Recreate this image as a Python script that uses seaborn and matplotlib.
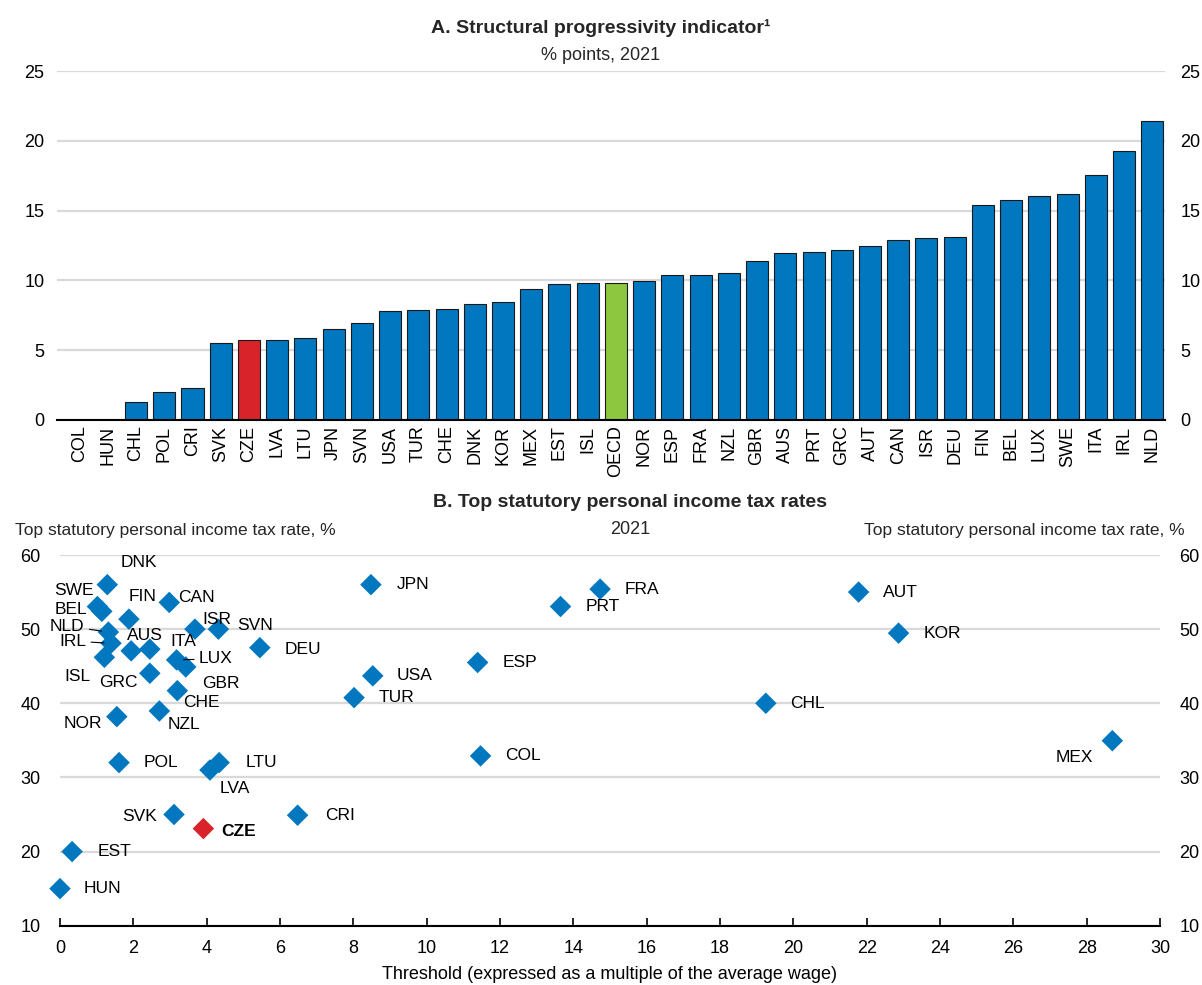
import matplotlib
matplotlib.use("Agg")
import matplotlib.pyplot as plt
import seaborn as sns
import pandas as pd

BLUE = "#0077BE"
RED = "#D9232A"
GREEN = "#8DC63F"
GRID = "#D9D9D9"

# Panel A: structural progressivity indicator, % points, 2021
bar_countries = ["COL", "HUN", "CHL", "POL", "CRI", "SVK", "CZE", "LVA", "LTU", "JPN",
                 "SVN", "USA", "TUR", "CHE", "DNK", "KOR", "MEX", "EST", "ISL", "OECD",
                 "NOR", "ESP", "FRA", "NZL", "GBR", "AUS", "PRT", "GRC", "AUT", "CAN",
                 "ISR", "DEU", "FIN", "BEL", "LUX", "SWE", "ITA", "IRL", "NLD"]
bar_values = [0.0, 0.0, 1.27, 1.98, 2.27, 5.5, 5.7, 5.75, 5.9, 6.5,
              6.95, 7.8, 7.9, 7.97, 8.28, 8.47, 9.36, 9.76, 9.79, 9.8,
              9.95, 10.36, 10.36, 10.55, 11.4, 11.98, 12.03, 12.15, 12.43, 12.89,
              13.03, 13.12, 15.39, 15.73, 16.08, 16.2, 17.56, 19.28, 21.4]

# Panel B: threshold (multiple of average wage) vs top statutory PIT rate, 2021
pit_countries = ["DNK", "SWE", "BEL", "FIN", "CAN", "NLD", "IRL", "AUS", "ITA", "ISR",
                 "SVN", "DEU", "ISL", "LUX", "GBR", "GRC", "CHE", "NOR", "NZL", "POL",
                 "LTU", "LVA", "SVK", "CZE", "EST", "HUN", "JPN", "FRA", "PRT", "ESP",
                 "USA", "TUR", "COL", "CRI", "AUT", "KOR", "CHL", "MEX"]
pit_threshold = [1.29, 1.02, 1.14, 1.88, 2.98, 1.32, 1.39, 1.94, 2.45, 3.68,
                 4.32, 5.45, 1.21, 3.18, 3.43, 2.45, 3.2, 1.55, 2.71, 1.61,
                 4.34, 4.09, 3.11, 3.91, 0.33, 0.0, 8.48, 14.73, 13.65, 11.39,
                 8.53, 8.02, 11.47, 6.48, 21.78, 22.87, 19.25, 28.7]
pit_rate = [56.0, 53.05, 52.4, 51.35, 53.6, 49.6, 48.1, 47.07, 47.3, 50.0,
            50.0, 47.5, 46.2, 45.85, 44.9, 44.05, 41.7, 38.2, 38.96, 32.0,
            32.0, 31.0, 25.0, 23.1, 20.0, 15.0, 56.0, 55.4, 53.05, 45.5,
            43.7, 40.76, 32.9, 24.9, 55.0, 49.46, 40.0, 34.95]

# label placement (pixel offsets of label centre from marker; +y is up)
default_offset = (42, 0)
label_offsets = {
    "DNK": (32, 22), "SWE": (-23, 16), "BEL": (-31, 2), "FIN": (14, 23), "CAN": (27, 5),
    "NLD": (-41, 6), "IRL": (-38, 2), "AUS": (14, 15), "ITA": (33, 8), "ISR": (22, 10),
    "SVN": (37, 4), "DEU": (43, -2), "ISL": (-27, -19), "LUX": (39, 1), "GBR": (35, -17),
    "GRC": (-31, -9), "CHE": (24, -12), "NOR": (-34, -7), "NZL": (25, -14), "LVA": (25, -18),
    "SVK": (-34, -2), "CZE": (35, -3), "MEX": (-38, -17), "KOR": (44, 0),
}
leader_lines = ["NLD", "IRL", "LUX"]

sns.set_theme(style="white")
plt.rcParams["font.family"] = ["Liberation Sans", "DejaVu Sans"]
FS = 13
FS_LAB = 12.5
FS_TITLE = 14

fig = plt.figure(figsize=(12.02, 9.85), dpi=100)
W, H = 1202, 985

# ---------------- Panel A ----------------
axA = fig.add_axes([57 / W, 1 - 420 / H, (1165 - 57) / W, 349 / H])
df_a = pd.DataFrame({"country": bar_countries, "value": bar_values})
pal_a = {c: BLUE for c in bar_countries}
pal_a["CZE"] = RED
pal_a["OECD"] = GREEN
sns.barplot(data=df_a, x="country", y="value", hue="country", palette=pal_a,
            legend=False, width=0.78, saturation=1, edgecolor="#1a1a1a",
            linewidth=0.8, ax=axA)
axA.set_xlim(-0.8, 38.45)
axA.set_ylim(0, 25)
axA.set_yticks(range(0, 26, 5))
axA.yaxis.grid(True, color=GRID, lw=1.6)
axA.set_axisbelow(True)
for s in ["left", "right", "top"]:
    axA.spines[s].set_visible(False)
axA.spines["bottom"].set_color("black")
axA.spines["bottom"].set_linewidth(1.5)
axA.tick_params(axis="x", rotation=90, length=0, pad=4, labelsize=FS, colors="black")
axA.tick_params(axis="y", length=0, labelsize=FS, colors="black", pad=9)
axA.set_xlabel("")
axA.set_ylabel("")

# right-hand scale with its own padding
axA2 = axA.twinx()
axA2.set_ylim(0, 25)
axA2.set_yticks(range(0, 26, 5))
axA2.tick_params(axis="y", length=0, labelsize=FS, colors="black", pad=11)
axA2.grid(False)
for s in axA2.spines.values():
    s.set_visible(False)

# ---------------- Panel B ----------------
axB = fig.add_axes([60 / W, 1 - 925.7 / H, 1100 / W, 370.7 / H])
df_b = pd.DataFrame({"country": pit_countries, "threshold": pit_threshold, "rate": pit_rate})
df_b["group"] = ["CZE" if c == "CZE" else "other" for c in df_b["country"]]
sns.scatterplot(data=df_b, x="threshold", y="rate", hue="group",
                palette={"CZE": RED, "other": BLUE}, marker="D", s=120,
                edgecolor="none", legend=False, ax=axB, zorder=3, clip_on=False)
axB.set_xlim(0, 30)
axB.set_ylim(10, 60)
axB.set_xticks(range(0, 31, 2))
axB.set_yticks(range(10, 61, 10))
axB.yaxis.grid(True, color=GRID, lw=1.6)
axB.set_axisbelow(True)
for s in ["left", "right", "top"]:
    axB.spines[s].set_visible(False)
axB.spines["bottom"].set_color("black")
axB.spines["bottom"].set_linewidth(1.5)
axB.tick_params(axis="x", direction="in", length=6, width=1.2, color="black",
                bottom=True, pad=10, labelsize=FS, colors="black")
axB.tick_params(axis="y", length=0, labelsize=FS, colors="black", labelleft=True,
                labelright=True, pad=14)
axB.set_xlabel("Threshold (expressed as a multiple of the average wage)", fontsize=FS,
               labelpad=7, color="black")
axB.set_ylabel("")

for c, x, y in zip(pit_countries, pit_threshold, pit_rate):
    dx, dy = label_offsets.get(c, default_offset)
    kw = dict(fontweight="bold") if c == "CZE" else {}
    if c in leader_lines:
        axB.annotate(c, xy=(x, y), xytext=(dx, dy), textcoords="offset pixels",
                     ha="center", va="center", fontsize=FS_LAB, color="black",
                     arrowprops=dict(arrowstyle="-", color="black", lw=0.8,
                                     shrinkA=1, shrinkB=5), **kw)
    else:
        axB.annotate(c, xy=(x, y), xytext=(dx, dy), textcoords="offset pixels",
                     ha="center", va="center", fontsize=FS_LAB, color="black", **kw)

# ---------------- titles ----------------
fig.text(0.5, 1 - 28 / H, "A. Structural progressivity indicator¹", ha="center",
         va="center", fontsize=FS_TITLE, fontweight="bold")
fig.text(0.5, 1 - 55 / H, "% points, 2021", ha="center", va="center", fontsize=FS)
fig.text(0.524, 1 - 503 / H, "B. Top statutory personal income tax rates", ha="center",
         va="center", fontsize=FS_TITLE, fontweight="bold")
fig.text(0.524, 1 - 530 / H, "2021", ha="center", va="center", fontsize=FS)
fig.text(15 / W, 1 - 530 / H, "Top statutory personal income tax rate, %", ha="left",
         va="center", fontsize=12.5)
fig.text(1185 / W, 1 - 530 / H, "Top statutory personal income tax rate, %", ha="right",
         va="center", fontsize=12.5)

fig.savefig("out.png", dpi=100)
